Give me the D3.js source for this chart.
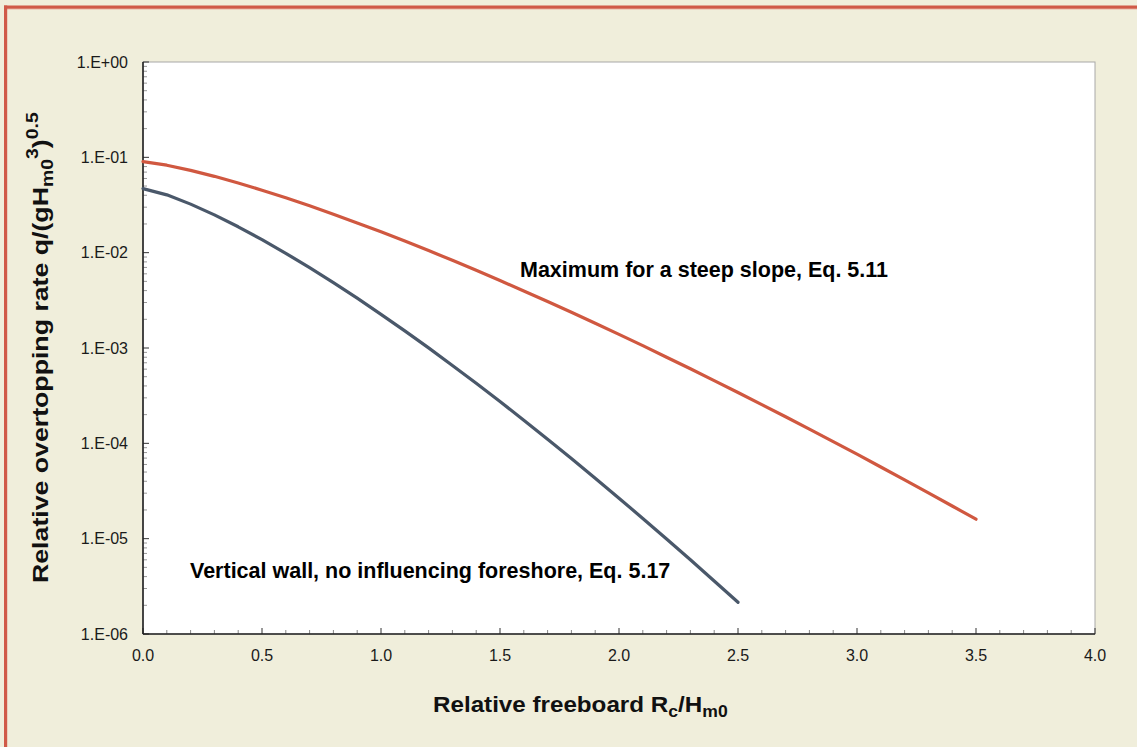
<!DOCTYPE html>
<html>
<head>
<meta charset="utf-8">
<script src="https://cdn.jsdelivr.net/npm/d3@7"></script>
<style>
  html, body { margin: 0; padding: 0; background: #f0eedb; }
  svg { display: block; }
  text { font-family: "Liberation Sans", Arial, sans-serif; }
</style>
</head>
<body>
<svg id="chart" width="1137" height="747"></svg>
<script>
// ---- data ----
const xValuesSteep = [0.0,0.1,0.2,0.3,0.4,0.5,0.6,0.7,0.8,0.9,1.0,1.1,1.2,1.3,1.4,1.5,1.6,1.7,1.8,1.9,2.0,2.1,2.2,2.3,2.4,2.5,2.6,2.7,2.8,2.9,3.0,3.1,3.2,3.3,3.4,3.5];
const qSteepSlope = [0.0900,0.0827,0.0730,0.0632,0.0538,0.0452,0.0376,0.0310,0.0253,0.0205,0.01654,0.01323,0.01051,0.00831,0.00653,0.00510,0.00397,0.00307,0.00237,0.00182,0.00139,0.001058,0.000801,0.000605,0.000455,0.000341,0.000255,0.000190,0.000141,0.000104,0.0000770,0.0000565,0.0000414,0.0000302,0.0000220,0.0000160];
const xValuesWall = [0.0,0.1,0.2,0.3,0.4,0.5,0.6,0.7,0.8,0.9,1.0,1.1,1.2,1.3,1.4,1.5,1.6,1.7,1.8,1.9,2.0,2.1,2.2,2.3,2.4,2.5];
const qVerticalWall = [0.0470,0.0404,0.0323,0.0249,0.01868,0.01369,0.00985,0.00696,0.00485,0.00333,0.002256,0.001511,0.001002,0.000656,0.000426,0.000274,0.000175,0.0001106,0.0000693,0.0000431,0.0000266,0.0000163,0.00000992,0.00000600,0.00000360,0.00000215];
const xTickValues = [0.0,0.5,1.0,1.5,2.0,2.5,3.0,3.5,4.0];
const xTickLabels = ["0.0","0.5","1.0","1.5","2.0","2.5","3.0","3.5","4.0"];
const yTickValues = [1e-6,1e-5,1e-4,1e-3,1e-2,1e-1,1];
const yTickLabels = ["1.E-06","1.E-05","1.E-04","1.E-03","1.E-02","1.E-01","1.E+00"];
const labelSteep = "Maximum for a steep slope, Eq. 5.11";
const labelWall = "Vertical wall, no influencing foreshore, Eq. 5.17";

// ---- layout ----
const W = 1137, H = 747;
const plot = { left: 143, top: 62, right: 1095, bottom: 634 };
const svg = d3.select("#chart");

const x = d3.scaleLinear().domain([0, 4]).range([plot.left, plot.right]);
const y = d3.scaleLog().domain([1e-6, 1]).range([plot.bottom, plot.top]);

// background + border
svg.append("rect").attr("x", 0).attr("y", 0).attr("width", W).attr("height", H).attr("fill", "#f0eedb");
svg.append("rect").attr("x", 4).attr("y", 8.5).attr("width", W - 4).attr("height", 1).attr("fill", "#e9b3a5");
svg.append("rect").attr("x", 4).attr("y", 5.5).attr("width", W - 4).attr("height", 3.2).attr("fill", "#d05a48");
svg.append("rect").attr("x", 4).attr("y", 5.5).attr("width", 3.2).attr("height", H - 5).attr("fill", "#d05a48");

// plot area
svg.append("rect").attr("x", plot.left).attr("y", plot.top)
  .attr("width", plot.right - plot.left).attr("height", plot.bottom - plot.top)
  .attr("fill", "#ffffff").attr("stroke", "#a8a8a8").attr("stroke-width", 1);

// minor ticks
const xMinor = d3.range(1, 40).map(i => i / 10).filter(v => Math.abs(v * 2 - Math.round(v * 2)) > 1e-6);
const gx = svg.append("g");
gx.selectAll("line.minor").data(xMinor).join("line")
  .attr("x1", d => x(d)).attr("x2", d => x(d))
  .attr("y1", plot.bottom).attr("y2", plot.bottom - 4)
  .attr("stroke", "#888").attr("stroke-width", 1);
gx.selectAll("line.major").data(xTickValues).join("line")
  .attr("x1", d => x(d)).attr("x2", d => x(d))
  .attr("y1", plot.bottom).attr("y2", plot.bottom - 6)
  .attr("stroke", "#333").attr("stroke-width", 1);
gx.selectAll("text").data(xTickValues).join("text")
  .attr("x", d => x(d)).attr("y", 661)
  .attr("text-anchor", "middle").attr("font-size", 16).attr("fill", "#1a1a1a")
  .text((d, i) => xTickLabels[i]);

const yMinor = [];
for (let e = -6; e < 0; e++) for (let m = 2; m <= 9; m++) yMinor.push(m * Math.pow(10, e));
const gy = svg.append("g");
gy.selectAll("line.minor").data(yMinor).join("line")
  .attr("x1", plot.left).attr("x2", plot.left + 4)
  .attr("y1", d => y(d)).attr("y2", d => y(d))
  .attr("stroke", "#999").attr("stroke-width", 1);
gy.selectAll("line.major").data(yTickValues).join("line")
  .attr("x1", plot.left).attr("x2", plot.left + 6)
  .attr("y1", d => y(d)).attr("y2", d => y(d))
  .attr("stroke", "#333").attr("stroke-width", 1);
gy.selectAll("text").data(yTickValues).join("text")
  .attr("x", 128).attr("y", d => y(d)).attr("dy", "0.36em")
  .attr("text-anchor", "end").attr("font-size", 16).attr("fill", "#1a1a1a")
  .text((d, i) => yTickLabels[i]);

// axis lines (left, bottom)
svg.append("line").attr("x1", plot.left).attr("x2", plot.left).attr("y1", plot.top).attr("y2", plot.bottom)
  .attr("stroke", "#222").attr("stroke-width", 1.6);
svg.append("line").attr("x1", plot.left).attr("x2", plot.right).attr("y1", plot.bottom).attr("y2", plot.bottom)
  .attr("stroke", "#222").attr("stroke-width", 1.6);

// series
const line = d3.line().x(d => x(d[0])).y(d => y(d[1]));
svg.append("path").datum(xValuesSteep.map((v, i) => [v, qSteepSlope[i]]))
  .attr("d", line).attr("fill", "none").attr("stroke", "#d05840").attr("stroke-width", 3.2)
  .attr("stroke-linejoin", "round").attr("stroke-linecap", "round");
svg.append("path").datum(xValuesWall.map((v, i) => [v, qVerticalWall[i]]))
  .attr("d", line).attr("fill", "none").attr("stroke", "#4a586a").attr("stroke-width", 3.2)
  .attr("stroke-linejoin", "round").attr("stroke-linecap", "round");

// annotations
svg.append("text").attr("x", 520).attr("y", 277).attr("font-size", 21.5).attr("font-weight", "bold")
  .attr("fill", "#000").text(labelSteep);
svg.append("text").attr("x", 190).attr("y", 578).attr("font-size", 21.5).attr("font-weight", "bold")
  .attr("fill", "#000").text(labelWall);

// x axis title (stretched along reading direction to the reference length)
const xt = svg.append("text").attr("x", 0).attr("y", 0).attr("font-size", 22).attr("font-weight", "bold").attr("fill", "#111");
xt.append("tspan").text("Relative freeboard R");
xt.append("tspan").attr("font-size", 16).attr("dy", 5).text("c");
xt.append("tspan").attr("dy", -5).text("/H");
xt.append("tspan").attr("font-size", 16).attr("dy", 5).text("m0");
const xtw = xt.node().getBBox().width;
xt.attr("transform", `translate(433,712) scale(${295 / xtw},1)`);

// y axis title
const yt = svg.append("text").attr("x", 0).attr("y", 0).attr("font-size", 22).attr("font-weight", "bold").attr("fill", "#111");
yt.append("tspan").text("Relative overtopping rate q/(gH");
yt.append("tspan").attr("font-size", 16).attr("dy", 5).text("m0");
yt.append("tspan").attr("font-size", 16).attr("dy", -15).text("3");
yt.append("tspan").attr("dy", 10).text(")");
yt.append("tspan").attr("font-size", 16).attr("dy", -10).text("0.5");
const ytw = yt.node().getBBox().width;
yt.attr("transform", `translate(48,583) rotate(-90) scale(${471 / ytw},1)`);
</script>
</body>
</html>
